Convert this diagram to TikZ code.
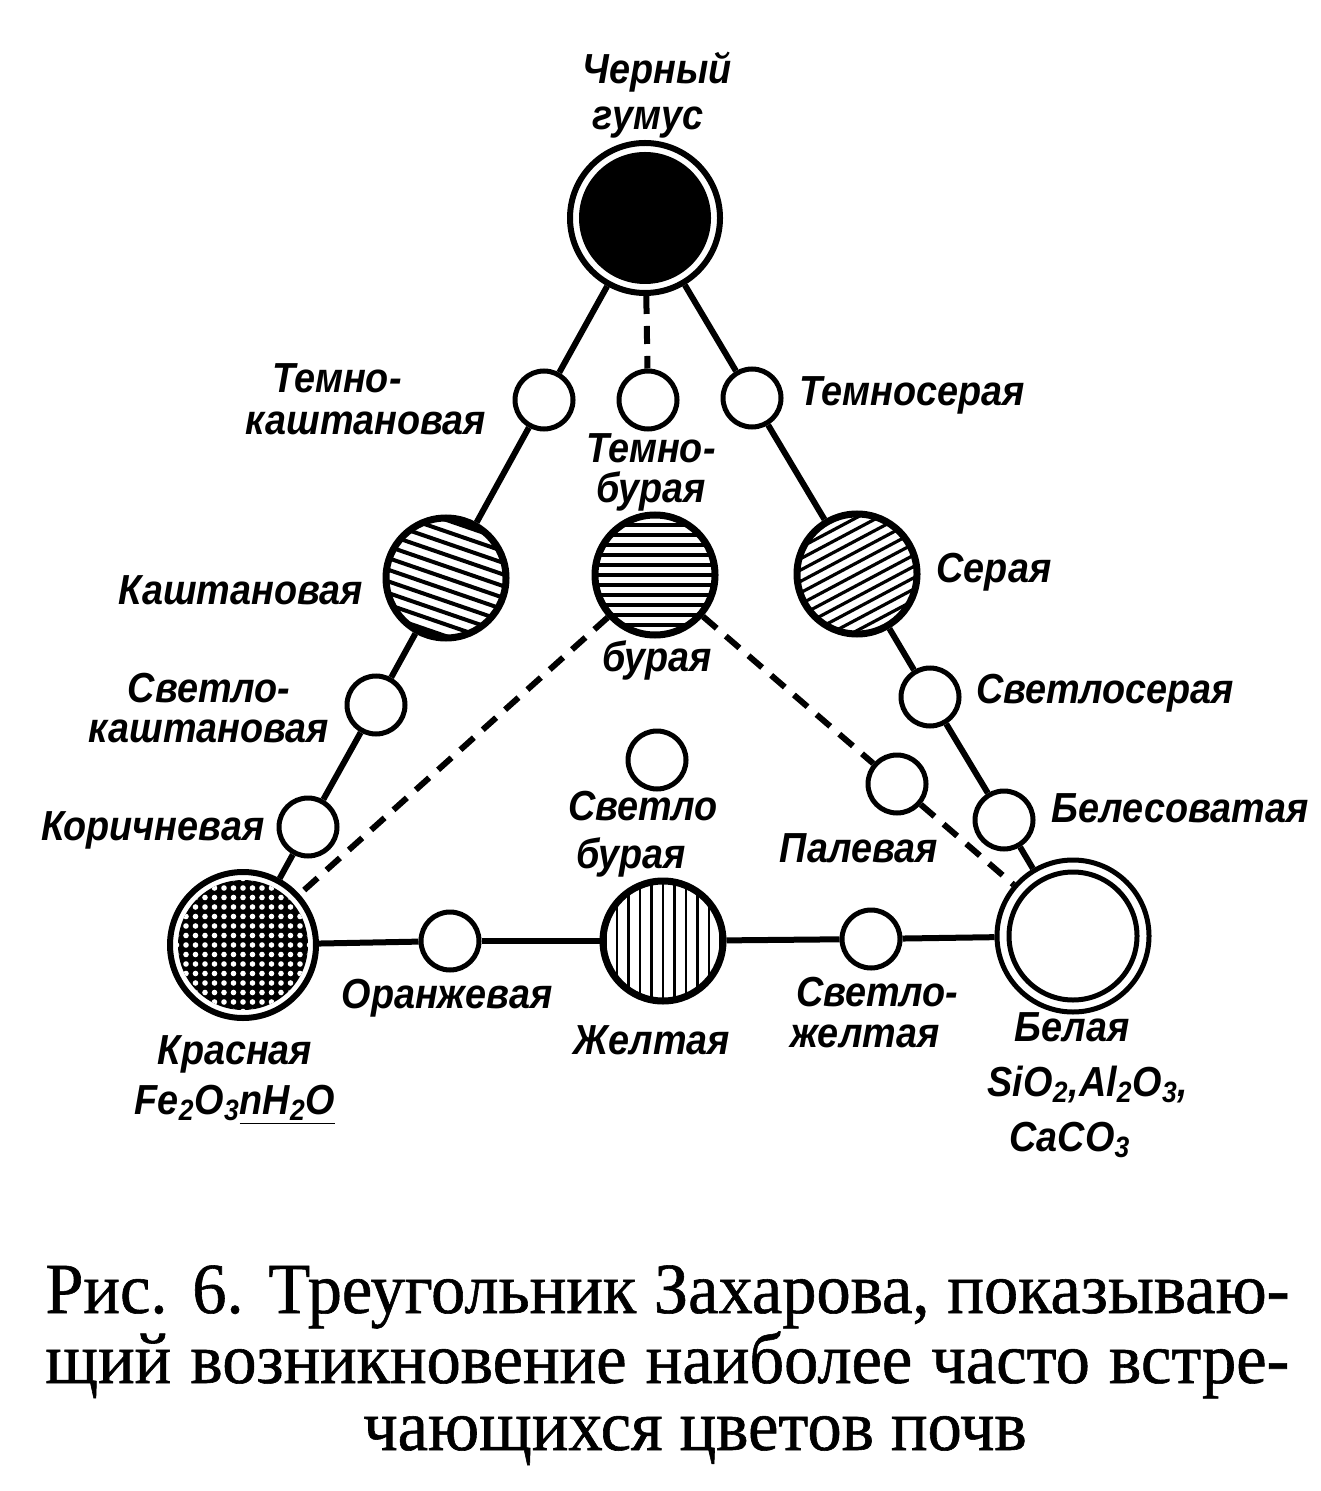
\documentclass[tikz,border=0pt]{standalone}
\usepackage{fontspec}
\newfontfamily\labfont[FakeStretch=0.9]{Liberation Sans}
\newfontfamily\capfont[FakeStretch=0.95,FakeBold=0.8]{Liberation Serif}
\tikzset{
  conn/.style={line width=3pt},
  dsh/.style={line width=3pt, dash pattern=on 9pt off 6pt},
  small/.style={circle, draw, line width=2.5pt, minimum size=29pt, inner sep=0pt, fill=white},
  big/.style={circle, draw, line width=3.5pt, minimum size=60pt, inner sep=0pt, fill=white},
  ring/.style={circle, draw, inner sep=0pt, fill=white},
  disk/.style={circle, fill=black, inner sep=0pt},
  hatch/.style args={#1/#2/#3}{path picture={\begin{scope}[shift={(path picture bounding box.center)}]
      \foreach \k in {-8,...,8}{\draw[line width=#3]
        ({\k*#2*sin(#1)-80*cos(#1)},{\k*#2*cos(#1)+80*sin(#1)}) --
        ({\k*#2*sin(#1)+80*cos(#1)},{\k*#2*cos(#1)-80*sin(#1)});}
    \end{scope}}},
  dots/.style={path picture={\begin{scope}[shift={(path picture bounding box.center)}]
      \foreach \i in {-7,...,7}{\foreach \j in {-7,...,7}{\fill[white] (\i*9.5,\j*9.5) circle[radius=1.4pt];}}
    \end{scope}}},
  lab/.style={font=\labfont\bfseries\itshape\fontsize{21}{20}\selectfont, inner sep=0pt, align=center},
  capst/.style={font=\capfont\fontsize{36}{40}\selectfont, inner sep=0pt},
}
\begin{document}
\begin{tikzpicture}[x=0.5pt,y=-0.5pt]
\fill[white] (0,0) rectangle (1320,1491);
\useasboundingbox (0,0) rectangle (1320,1491);

% nodes
\node[ring, minimum size=75pt, line width=3pt] (top) at (645,218) {};
\node[disk, minimum size=66pt] (topin) at (top) {};
\node[small] (tk) at (544,400) {};
\node[small] (tb) at (648,400) {};
\node[small] (ts) at (752,398) {};
\node[big, hatch=-19/11/2pt] (kasht) at (446,578) {};
\node[big, hatch=0/10/1.6pt] (bur) at (655,575) {};
\node[big, hatch=28/10/1.6pt] (ser) at (857,574) {};
\node[small] (sk) at (376,705) {};
\node[small] (ss) at (930,697) {};
\node[small] (sb) at (657,760) {};
\node[small] (pal) at (897,784) {};
\node[small] (bel) at (1004,820) {};
\node[small] (kor) at (308,827) {};
\node[ring, minimum size=73pt, line width=3pt] (red) at (243,945) {};
\node[disk, minimum size=65pt, dots] (redin) at (red) {};
\node[small] (or) at (450,941) {};
\node[big, hatch=90/11.5/1.4pt] (yel) at (663,941) {};
\node[small] (sj) at (871,939) {};
\node[ring, minimum size=76pt, line width=2.5pt] (white) at (1073,936) {};
\node[ring, minimum size=64pt, line width=2.5pt] (whitein) at (white) {};

% connectors
\draw[conn] (top) -- (tk);
\draw[conn] (tk) -- (kasht);
\draw[conn] (kasht) -- (sk);
\draw[conn] (sk) -- (kor);
\draw[conn] (kor) -- (red);
\draw[conn] (top) -- (ts);
\draw[conn] (ts) -- (ser);
\draw[conn] (ser) -- (ss);
\draw[conn] (ss) -- (bel);
\draw[conn] (bel) -- (white);
\draw[conn] (red) -- (or);
\draw[conn] (or) -- (yel);
\draw[conn] (yel) -- (sj);
\draw[conn] (sj) -- (white);
\draw[dsh] (top) -- (tb);
\draw[dsh] (bur) -- (red);
\draw[dsh] (bur) -- (pal);
\draw[dsh] (pal) -- (white);

% labels
\node[lab] (l1) at (648,95) {\hspace*{9pt}Черный\\[3pt]гумус};
\node[lab] (l2) at (366,399) {Темно-\hspace*{29pt}\\[1pt]каштановая};
\node[lab] (l5) at (912,395) {Темносерая};
\node[lab] (l6) at (651,472) {Темно-\\[0pt]бурая};
\node[lab] (l8) at (241,590) {Каштановая};
\node[lab] (l9) at (994,572) {Серая};
\node[lab] (l10) at (657,660) {бурая};
\node[lab] (l11) at (209,708) {Светло-\\каштановая};
\node[lab] (l13) at (1105,693) {Светлосерая};
\node[lab] (l14) at (637,834) {\hspace*{6pt}Светло\\[4pt]бурая\hspace*{6pt}};
\node[lab] (l16) at (859,848) {Палевая};
\node[lab] (l17) at (1180,808) {Белесоватая};
\node[lab] (l18) at (153,830) {Коричневая};
\node[lab] (l19) at (447,998) {Оранжевая};
\node[lab] (l20) at (652,1040) {Желтая};
\node[lab] (l21) at (871,1013) {\hspace*{6pt}Светло-\\[0.5pt]желтая\hspace*{6pt}};
\node[lab] (l23) at (235,1080) {Красная\\[5pt]Fe\textsubscript{2}O\textsubscript{3}\underline{nH\textsubscript{2}O}};
\node[lab] (l25) at (1080,1085) {Белая\hspace*{8pt}\\[7.5pt]\hspace*{8pt}SiO\textsubscript{2},Al\textsubscript{2}O\textsubscript{3},\\[7.5pt]CaCO\textsubscript{3}\hspace*{10pt}};

% caption
\node[capst, anchor=base west] (c1) at (45,1313) {\makebox[622pt][s]{Рис. 6. Треугольник Захарова, показываю-}};
\node[capst, anchor=base west] (c2) at (45,1383) {\makebox[622pt][s]{щий возникновение наиболее часто встре-}};
\node[capst, anchor=base] (c3) at (695,1450) {чающихся цветов почв};
\end{tikzpicture}
\end{document}
